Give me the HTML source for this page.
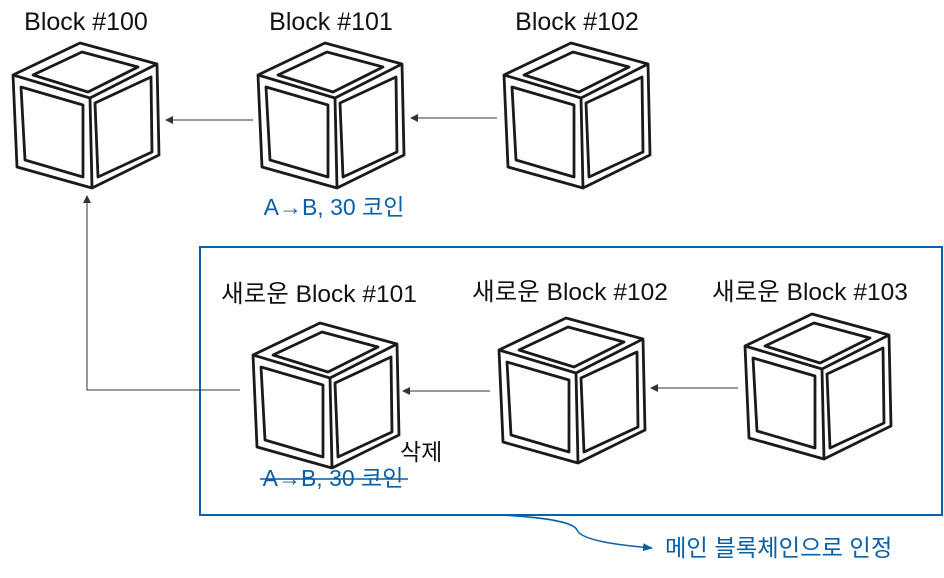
<!DOCTYPE html>
<html><head><meta charset="utf-8"><style>
body{margin:0;background:#fff;}
svg{display:block;}
text{font-family:"Liberation Sans","Noto Sans CJK KR",sans-serif;}
</style></head><body>
<svg width="944" height="578" viewBox="0 0 944 578" xmlns="http://www.w3.org/2000/svg">
<defs>
<g id="cube" fill="none" stroke="#1a1a1a" stroke-width="2.8" stroke-linejoin="round">
<polygon points="0,0 77,21 79,112 12,145 -63,124 -67,32" fill="#fff"/>
<polyline points="-67,32 10,55 77,21"/>
<line x1="10" y1="55" x2="12" y2="145"/>
<polygon points="2,9 58,24 8,49 -47,32"/>
<polygon points="-59,44 3,62 3,134 -55,117"/>
<polygon points="15,60 71,34 72,109 18,134"/>
</g>
<marker id="ah" markerWidth="8" markerHeight="8" refX="7" refY="4" orient="auto" markerUnits="userSpaceOnUse"><path d="M0,0 L8,4 L0,8 Z" fill="#333"/></marker>
<marker id="bh" markerWidth="10" markerHeight="8" refX="9" refY="4" orient="auto" markerUnits="userSpaceOnUse"><path d="M0,0 L10,4 L0,8 Z" fill="#0a5fa5"/></marker>
</defs>
<rect x="200" y="247" width="742" height="268" fill="none" stroke="#0a5fa5" stroke-width="2"/>
<use href="#cube" x="80" y="43"/>
<use href="#cube" x="325" y="43"/>
<use href="#cube" x="571" y="43"/>
<use href="#cube" x="320" y="323"/>
<use href="#cube" x="566" y="318"/>
<use href="#cube" x="812" y="314"/>
<g stroke="#333" stroke-width="1" fill="none">
<line x1="253" y1="120" x2="166" y2="120" marker-end="url(#ah)"/>
<line x1="497" y1="118" x2="411" y2="118" marker-end="url(#ah)"/>
<line x1="490" y1="391" x2="403" y2="391" marker-end="url(#ah)"/>
<line x1="738" y1="388" x2="651" y2="388" marker-end="url(#ah)"/>
<polyline points="240,390 87,390 87,196" marker-end="url(#ah)"/>
</g>
<path d="M500,515 C560,518 575,525 577,530 C582,542 630,546 652,548" fill="none" stroke="#0a5fa5" stroke-width="1.5" marker-end="url(#bh)"/>
<g font-size="25" fill="#111" text-anchor="middle">
<text x="86" y="30">Block #100</text>
<text x="331" y="30">Block #101</text>
<text x="577" y="30">Block #102</text>
</g>
<g font-size="24.5" fill="#111" text-anchor="middle">
<text x="319" y="302">새로운 Block #101</text>
<text x="570" y="300">새로운 Block #102</text>
<text x="810" y="300">새로운 Block #103</text>
</g>
<text x="334" y="215" font-size="23" fill="#0a5fa5" text-anchor="middle">A→B, 30 코인</text>
<text x="333" y="486" font-size="23" fill="#0a5fa5" text-anchor="middle">A→B, 30 코인</text>
<line x1="260" y1="479" x2="408" y2="479" stroke="#0a5fa5" stroke-width="1.5"/>
<text x="400" y="460" font-size="23" fill="#111">삭제</text>
<text x="665" y="556" font-size="23.3" fill="#0a5fa5">메인 블록체인으로 인정</text>
</svg>
</body></html>
